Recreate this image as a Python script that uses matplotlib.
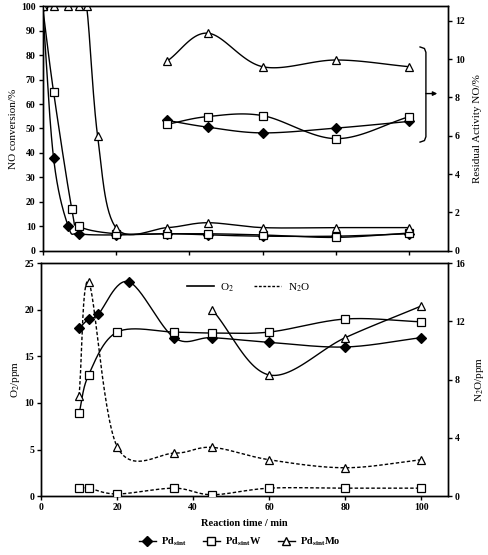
import numpy as np
import matplotlib
matplotlib.use('Agg')
import matplotlib.pyplot as plt
from matplotlib.lines import Line2D

plt.rcParams['font.family'] = ['Liberation Serif', 'DejaVu Serif']
plt.rcParams['mathtext.fontset'] = 'stix'

# ---- top panel: NO conversion (left axis) ----
t_pd = [0, 3, 7, 10, 20, 34, 45, 60, 80, 100]
conv_pd = [100, 38, 10, 7, 6.5, 7, 6.5, 6, 6, 7]
t_w = [0, 3, 8, 10, 20, 34, 45, 60, 80, 100]
conv_w = [100, 65, 17, 10, 7, 7, 7, 6.5, 5.5, 7.3]
t_mo = [0, 3, 7, 10, 12, 15, 20, 34, 45, 60, 80, 100]
conv_mo = [100, 100, 100, 100, 100, 47, 9.5, 9.5, 11.5, 9.5, 9.5, 9.5]

# residual activity (right axis)
t_res = [34, 45, 60, 80, 100]
res_pd = [6.8, 6.45, 6.15, 6.4, 6.75]
res_w = [6.6, 7.0, 7.05, 5.85, 7.0]
res_mo = [9.9, 11.35, 9.6, 9.95, 9.6]

# ---- bottom panel: O2 (left) and N2O (right) ----
t_o2_pd = [10, 12.5, 15, 23, 35, 45, 60, 80, 100]
o2_pd = [18, 19, 19.5, 23, 17, 17, 16.5, 16, 17]
t_o2_w = [10, 12.5, 20, 35, 45, 60, 80, 100]
o2_w = [8.9, 13, 17.6, 17.6, 17.5, 17.6, 19, 18.7]
t_o2_mo = [45, 60, 80, 100]
o2_mo = [20, 13, 17, 20.4]

t_n2o_w = [10, 12.5, 20, 35, 45, 60, 80, 100]
n2o_w = [0.55, 0.55, 0.15, 0.55, 0.1, 0.55, 0.55, 0.55]
t_n2o_mo = [10, 12.5, 20, 35, 45, 60, 80, 100]
n2o_mo = [6.9, 14.7, 3.4, 2.95, 3.35, 2.5, 1.95, 2.5]


def smooth(x, y, n=30):
    # Catmull-Rom curve through the points (like the spreadsheet smoothing)
    p = np.column_stack([x, y]).astype(float)
    p = np.vstack([2 * p[0] - p[1], p, 2 * p[-1] - p[-2]])
    s = np.linspace(0, 1, n)[:, None]
    out = []
    for i in range(1, len(p) - 2):
        p0, p1, p2, p3 = p[i - 1], p[i], p[i + 1], p[i + 2]
        seg = 0.5 * ((2 * p1) + (-p0 + p2) * s +
                     (2 * p0 - 5 * p1 + 4 * p2 - p3) * s ** 2 +
                     (-p0 + 3 * p1 - 3 * p2 + p3) * s ** 3)
        out.append(seg if i == 1 else seg[1:])
    out = np.vstack(out)
    return out[:, 0], out[:, 1]


def series(ax, x, y, marker, filled, ls='-'):
    sx, sy = smooth(x, y)
    ax.plot(sx, sy, color='black', lw=1.0, ls=ls, zorder=2)
    ax.plot(x, y, ls='none', marker=marker, ms=6 if marker != 'D' else 5,
            mfc='black' if filled else 'white', mec='black', mew=0.9, zorder=3)


def style(ax):
    for sp in ax.spines.values():
        sp.set_linewidth(1.0)
    ax.tick_params(direction='out', length=3, width=1.0, labelsize=7, pad=2)
    for lab in ax.get_xticklabels() + ax.get_yticklabels():
        lab.set_fontweight('bold')


fig = plt.figure(figsize=(4.89, 5.55), dpi=100)

# top panel
ax1 = fig.add_axes([0.087, 0.548, 0.829, 0.441])
ax1r = ax1.twinx()
series(ax1, t_pd, conv_pd, 'D', True)
series(ax1, t_w, conv_w, 's', False)
series(ax1, t_mo, conv_mo, '^', False)
series(ax1r, t_res, res_pd, 'D', True)
series(ax1r, t_res, res_w, 's', False)
series(ax1r, t_res, res_mo, '^', False)
ax1.set_xlim(0, 110.5)
ax1.set_ylim(0, 100)
ax1r.set_ylim(0, 12.76)
ax1.set_xticks(range(0, 101, 20))
ax1.set_xticklabels([])
ax1.set_yticks(range(0, 101, 10))
ax1r.set_yticks(range(0, 13, 2))
ax1.set_ylabel('NO conversion/%', fontsize=8, labelpad=2)
ax1r.set_ylabel('Residual Activity NO/%', fontsize=8, labelpad=6)
style(ax1)
style(ax1r)

# bracket with arrow to the right axis
bx, btop, bbot = 104.5, 10.55, 5.75
ax1r.plot([bx - 1.6, bx - 0.4, bx, bx, bx - 0.4, bx - 1.6],
          [btop + 0.08, btop, btop - 0.2, bbot + 0.2, bbot, bbot - 0.08],
          color='black', lw=1.0, clip_on=False)
ax1r.annotate('', xy=(107.6, 8.2), xytext=(bx, 8.2),
              arrowprops=dict(arrowstyle='-|>', color='black', lw=1.0,
                              mutation_scale=6, shrinkA=0, shrinkB=0),
              annotation_clip=False)

# bottom panel
ax2 = fig.add_axes([0.084, 0.106, 0.832, 0.42])
ax2r = ax2.twinx()
series(ax2, t_o2_pd, o2_pd, 'D', True)
series(ax2, t_o2_w, o2_w, 's', False)
series(ax2, t_o2_mo, o2_mo, '^', False)
series(ax2r, t_n2o_w, n2o_w, 's', False, ls=(0, (2.5, 1.5)))
series(ax2r, t_n2o_mo, n2o_mo, '^', False, ls=(0, (2.5, 1.5)))
ax2.set_xlim(0, 107)
ax2.set_ylim(0, 25)
ax2r.set_ylim(0, 16)
ax2.set_xticks(range(0, 101, 20))
ax2.set_yticks(range(0, 26, 5))
ax2r.set_yticks(range(0, 17, 4))
ax2.set_xlabel('Reaction time / min', fontsize=7.5, fontweight='bold', labelpad=5)
ax2.set_ylabel('O$_2$/ppm', fontsize=8, labelpad=2)
ax2r.set_ylabel('N$_2$O/ppm', fontsize=8, labelpad=6)
style(ax2)
style(ax2r)

gas_handles = [Line2D([], [], color='black', lw=1.2),
               Line2D([], [], color='black', lw=1.0, ls=(0, (2, 1.2)))]
ax2.legend(gas_handles, ['O$_2$', 'N$_2$O'], loc='upper center',
           bbox_to_anchor=(0.51, 0.965), ncol=2, frameon=False, fontsize=8,
           handlelength=2.4, columnspacing=1.8, handletextpad=0.6)

# marker legend at the bottom
handles = [Line2D([], [], color='black', lw=1.0, marker='D', ms=5, mfc='black', mec='black'),
           Line2D([], [], color='black', lw=1.0, marker='s', ms=6, mfc='white', mec='black'),
           Line2D([], [], color='black', lw=1.0, marker='^', ms=6, mfc='white', mec='black')]
labels = [r'$\mathbf{Pd_{sint}}$', r'$\mathbf{Pd_{sint}}$W', r'$\mathbf{Pd_{sint}}$Mo']
fig.legend(handles, labels, loc='lower center', bbox_to_anchor=(0.49, -0.005), ncol=3,
           frameon=False, prop={'size': 7.5, 'weight': 'bold'},
           handlelength=1.6, columnspacing=1.6, handletextpad=0.5)

fig.savefig('out.png', dpi=100)
